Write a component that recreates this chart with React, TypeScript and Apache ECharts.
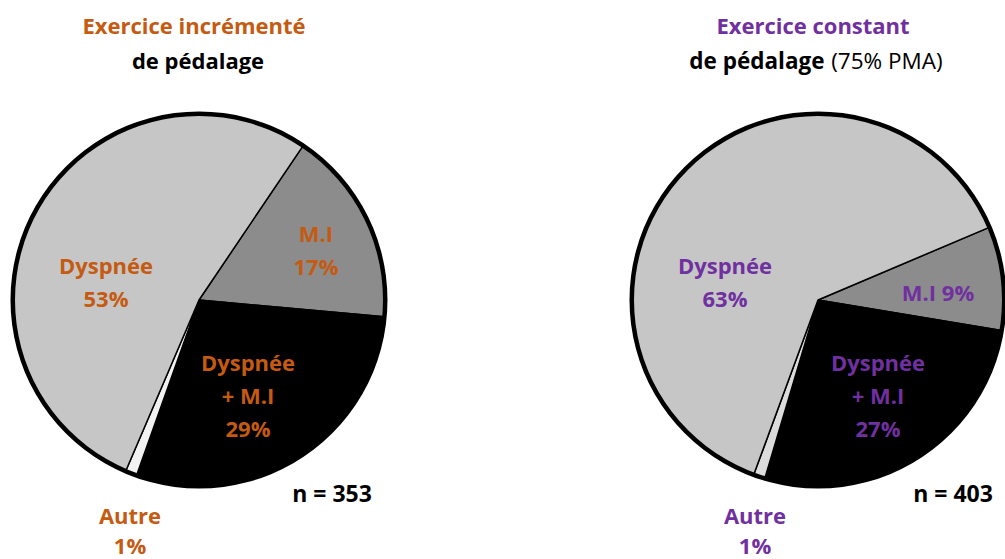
import React, { useEffect, useRef } from "react";
import * as echarts from "echarts";

// ---- data ----
const categories = ["M.I", "Dyspnée\n+ M.I", "Autre", "Dyspnée"];
const valuesIncremental = [17, 29, 1, 53];
const valuesConstant = [9, 27, 1, 63];
const nIncremental = 353;
const nConstant = 403;
const titleIncremental1 = "Exercice incrémenté";
const titleIncremental2 = "de pédalage";
const titleConstant1 = "Exercice constant";
const titleConstant2 = "de pédalage";
const titleConstant2b = "(75% PMA)";

// ---- styles ----
const ORANGE = "#c55a11";
const PURPLE = "#7030a0";
const FONT = "'Open Sans', 'Noto Sans', sans-serif";
const colorsLeft = ["#8c8c8c", "#000000", "#f2f2f2", "#c6c6c6"];
const colorsRight = ["#8c8c8c", "#000000", "#dcdcdc", "#c6c6c6"];
const R = 186;
const leftCenter = [199, 300];
const rightCenter = [818, 300];
// label anchor positions (px) per slice
const leftLabelPos = [
  [316, 249],
  [248, 395],
  [130, 530],
  [106, 281],
];
const rightLabelPos = [
  [938, 292],
  [878, 395],
  [755, 530],
  [725, 281],
];

function makePie(
  values: number[],
  colors: string[],
  center: number[],
  startAngle: number,
  textColor: string,
  labelPos: number[][],
  singleLineIdx: number[]
) {
  return [
    {
      type: "pie",
      center,
      radius: [0, R],
      startAngle,
      clockwise: true,
      avoidLabelOverlap: false,
      silent: true,
      itemStyle: { borderColor: "#000", borderWidth: 1.5 },
      label: {
        show: true,
        position: "inside",
        color: textColor,
        fontFamily: FONT,
        fontWeight: "bold",
        fontSize: 22,
        lineHeight: 33,
        align: "center",
        verticalAlign: "middle",
        formatter: (p: any) =>
          singleLineIdx.indexOf(p.dataIndex) >= 0
            ? `${p.name} ${p.value}%`
            : `${p.name}\n${p.value}%`,
      },
      labelLine: { show: false },
      labelLayout: (params: any) => {
        const pos = labelPos[params.dataIndex];
        return { x: pos[0], y: pos[1], align: "center", verticalAlign: "middle" };
      },
      data: values.map((v, i) => ({
        name: categories[i],
        value: v,
        itemStyle: { color: colors[i] },
        label: categories[i] === "Autre" ? { lineHeight: 30 } : undefined,
      })),
    },
    {
      type: "pie",
      center,
      radius: [R - 2, R + 2.5],
      silent: true,
      label: { show: false },
      labelLine: { show: false },
      itemStyle: { color: "#000", borderWidth: 0 },
      data: [{ name: "ring", value: 1 }],
    },
  ];
}

export default function App() {
  const ref = useRef<HTMLDivElement>(null);
  useEffect(() => {
    if (!ref.current) return;
    const chart = echarts.init(ref.current, undefined, { renderer: "svg" });
    const titleStyle = (color: string, size: number = 22) => ({
      fontFamily: FONT,
      fontSize: size,
      fontWeight: "bold",
      fill: color,
      textAlign: "center",
      textVerticalAlign: "middle",
    });
    chart.setOption({
      animation: false,
      backgroundColor: "#ffffff",
      series: [
        ...makePie(valuesIncremental, colorsLeft, leftCenter, 56, ORANGE, leftLabelPos, []),
        ...makePie(valuesConstant, colorsRight, rightCenter, 23, PURPLE, rightLabelPos, [0]),
      ],
      graphic: [
        { type: "text", x: 194, y: 25, style: { text: titleIncremental1, ...titleStyle(ORANGE) } },
        { type: "text", x: 198, y: 60, style: { text: titleIncremental2, ...titleStyle("#000") } },
        { type: "text", x: 813, y: 25, style: { text: titleConstant1, ...titleStyle(PURPLE) } },
        {
          type: "text",
          x: 816,
          y: 60,
          style: {
            text: `{b|${titleConstant2}}  {r|${titleConstant2b}}`,
            rich: {
              b: { fontFamily: FONT, fontSize: 22.5, fontWeight: "bold", fill: "#000" },
              r: { fontFamily: FONT, fontSize: 22.5, fontWeight: "normal", fill: "#000" },
            },
            textAlign: "center",
            textVerticalAlign: "middle",
          },
        },
        { type: "text", x: 332, y: 493, style: { text: `n = ${nIncremental}`, ...titleStyle("#000", 23) } },
        { type: "text", x: 953, y: 493, style: { text: `n = ${nConstant}`, ...titleStyle("#000", 23) } },
      ],
    });
    return () => chart.dispose();
  }, []);
  return (
    <div
      ref={ref}
      style={{ position: "fixed", left: 0, top: 0, width: 1005, height: 559 }}
    />
  );
}
